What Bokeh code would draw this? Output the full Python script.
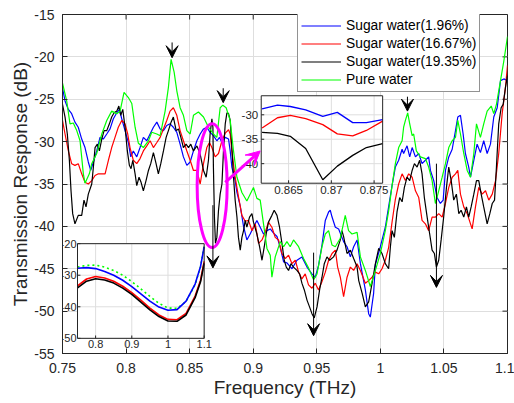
from bokeh.plotting import figure
from bokeh.models import Range1d, FixedTicker, Arrow, VeeHead
from bokeh.core.properties import value
from bokeh.embed import file_html
from bokeh.resources import INLINE

FONT = "Liberation Sans"
AX = "#262626"
GRID = "#dedede"

# ---------------- axis ticks ----------------
x_ticks = [0.75, 0.8, 0.85, 0.9, 0.95, 1.0, 1.05, 1.1]
x_tick_labels = ["0.75", "0.8", "0.85", "0.9", "0.95", "1", "1.05", "1.1"]
y_ticks = [-55, -50, -45, -40, -35, -30, -25, -20, -15]
y_tick_labels = ["-55", "-50", "-45", "-40", "-35", "-30", "-25", "-20", "-15"]
x_lim = (0.75, 1.1)
y_lim = (-55, -15)

series_names = ["Sugar water(1.96%)", "Sugar water(16.67%)", "Sugar water(19.35%)", "Pure water"]

# ---------------- main series (THz, dB) ----------------
blue_f = [0.7500, 0.7520, 0.7546, 0.7572, 0.7598, 0.7624, 0.7651, 0.7677, 0.7703, 0.7722, 0.7743, 0.7769,
          0.7795, 0.7821, 0.7848, 0.7874, 0.7900, 0.7927, 0.7947, 0.7966, 0.7992, 0.8018, 0.8037, 0.8057,
          0.8084, 0.8110, 0.8136, 0.8163, 0.8189, 0.8215, 0.8242, 0.8268, 0.8294, 0.8320, 0.8346, 0.8372,
          0.8399, 0.8425, 0.8451, 0.8478, 0.8504, 0.8530, 0.8557, 0.8583, 0.8609, 0.8635, 0.8661, 0.8687,
          0.8714, 0.8735, 0.8754, 0.8780, 0.8806, 0.8819, 0.8832, 0.8858, 0.8872, 0.8898, 0.8924, 0.8950,
          0.8976, 0.9002, 0.9029, 0.9055, 0.9081, 0.9108, 0.9134, 0.9160, 0.9187, 0.9213, 0.9239, 0.9265,
          0.9305, 0.9344, 0.9383, 0.9423, 0.9462, 0.9488, 0.9514, 0.9541, 0.9567, 0.9593, 0.9606, 0.9620,
          0.9646, 0.9672, 0.9711, 0.9738, 0.9764, 0.9790, 0.9817, 0.9843, 0.9882, 0.9908, 0.9921, 0.9947,
          0.9961, 1.0000, 1.0039, 1.0065, 1.0092, 1.0118, 1.0144, 1.0171, 1.0183, 1.0210, 1.0231, 1.0250,
          1.0276, 1.0302, 1.0328, 1.0354, 1.0380, 1.0394, 1.0420, 1.0446, 1.0472, 1.0494, 1.0512, 1.0538,
          1.0565, 1.0591, 1.0609, 1.0630, 1.0651, 1.0669, 1.0695, 1.0709, 1.0735, 1.0761, 1.0787, 1.0813,
          1.0840, 1.0866, 1.0892, 1.0919, 1.0945, 1.0971, 1.1000]
blue_db = [-23.7, -25.2, -26.2, -26.7, -27.7, -28.3, -29.7, -30.7, -32.4, -33.4, -32.4, -31.1,
           -29.5, -29.7, -29.1, -28.5, -27.3, -26.6, -26.2, -27.3, -28.7, -30.1, -31.8, -31.1,
           -31.8, -30.7, -29.5, -29.9, -29.1, -28.3, -27.7, -28.5, -28.7, -28.1, -27.9, -28.3,
           -28.9, -30.3, -31.8, -32.8, -32.4, -31.1, -29.9, -29.1, -28.5, -28.3, -28.9, -29.3,
           -29.9, -29.5, -30.1, -29.5, -29.7, -31.1, -33.0, -34.6, -36.0, -37.6, -40.0, -41.6,
           -40.9, -40.1, -39.3, -40.1, -40.9, -40.5, -40.3, -40.8, -41.2, -42.5, -44.2, -44.3,
           -45.0, -44.0, -43.6, -44.8, -45.6, -46.0, -44.6, -42.2, -39.3, -38.3, -38.1, -38.9,
           -40.1, -40.3, -41.8, -42.4, -43.6, -42.4, -41.6, -44.4, -47.5, -50.3, -50.7, -47.9,
           -44.5, -42.4, -40.1, -37.7, -35.2, -33.0, -32.2, -30.9, -31.4, -30.5, -31.8, -30.7,
           -31.8, -31.4, -32.6, -32.2, -31.8, -33.4, -34.6, -36.6, -37.3, -36.9, -33.4, -31.8,
           -30.9, -28.7, -27.1, -26.9, -29.1, -31.4, -33.0, -34.2, -32.2, -30.3, -31.3, -29.9,
           -31.4, -30.3, -27.1, -26.0, -22.8, -22.6, -22.8]

red_f = [0.7500, 0.7520, 0.7546, 0.7572, 0.7598, 0.7624, 0.7651, 0.7677, 0.7703, 0.7730, 0.7756, 0.7782,
         0.7809, 0.7835, 0.7861, 0.7887, 0.7913, 0.7939, 0.7966, 0.7992, 0.8013, 0.8031, 0.8057, 0.8084,
         0.8110, 0.8136, 0.8163, 0.8189, 0.8215, 0.8242, 0.8268, 0.8294, 0.8320, 0.8346, 0.8372, 0.8399,
         0.8425, 0.8451, 0.8478, 0.8504, 0.8530, 0.8557, 0.8583, 0.8609, 0.8635, 0.8656, 0.8675, 0.8701,
         0.8727, 0.8754, 0.8780, 0.8806, 0.8819, 0.8832, 0.8858, 0.8884, 0.8911, 0.8937, 0.8963, 0.8990,
         0.9016, 0.9042, 0.9069, 0.9094, 0.9120, 0.9147, 0.9173, 0.9199, 0.9226, 0.9252, 0.9278, 0.9305,
         0.9331, 0.9357, 0.9383, 0.9409, 0.9435, 0.9462, 0.9488, 0.9514, 0.9541, 0.9567, 0.9593, 0.9620,
         0.9646, 0.9664, 0.9685, 0.9711, 0.9738, 0.9764, 0.9790, 0.9817, 0.9843, 0.9882, 0.9908, 0.9935,
         0.9961, 0.9987, 1.0013, 1.0039, 1.0065, 1.0092, 1.0118, 1.0144, 1.0171, 1.0197, 1.0223, 1.0250,
         1.0276, 1.0302, 1.0328, 1.0354, 1.0380, 1.0407, 1.0433, 1.0459, 1.0486, 1.0512, 1.0538, 1.0565,
         1.0591, 1.0609, 1.0630, 1.0656, 1.0683, 1.0709, 1.0722, 1.0748, 1.0774, 1.0801, 1.0827, 1.0853,
         1.0880, 1.0906, 1.0931, 1.0958, 1.0984, 1.1000]
red_db = [-27.5, -29.1, -31.1, -32.6, -32.8, -32.6, -33.8, -34.8, -35.0, -34.6, -34.0, -33.8,
          -33.8, -33.8, -32.2, -30.7, -29.5, -28.3, -27.5, -27.9, -29.1, -30.7, -32.2, -32.6,
          -32.0, -31.1, -30.5, -29.9, -30.7, -30.1, -29.5, -28.5, -27.5, -26.4, -26.0, -26.9,
          -28.7, -29.9, -31.1, -32.2, -33.4, -33.4, -35.0, -32.6, -30.7, -30.1, -30.7, -31.8,
          -31.4, -29.9, -29.0, -28.6, -29.1, -31.1, -34.2, -36.5, -38.7, -39.4, -39.3, -40.5,
          -39.7, -42.0, -41.6, -40.7, -39.5, -40.1, -41.3, -41.6, -43.2, -43.8, -43.4, -44.4,
          -44.0, -45.4, -46.2, -45.6, -46.9, -47.3, -46.7, -47.5, -46.5, -45.4, -44.0, -43.2,
          -42.8, -44.8, -46.0, -48.3, -46.0, -44.8, -45.2, -44.4, -45.2, -46.7, -46.4, -46.0,
          -45.4, -45.6, -45.0, -44.0, -42.5, -39.5, -36.8, -35.0, -33.8, -34.6, -33.8, -34.2,
          -35.8, -36.6, -39.3, -39.7, -40.5, -38.9, -38.9, -38.5, -38.9, -37.3, -35.4, -34.2,
          -33.8, -33.4, -36.2, -37.7, -38.5, -39.7, -40.3, -37.7, -35.4, -36.2, -35.8, -36.9,
          -36.2, -34.6, -31.4, -26.7, -23.6, -21.0]

black_f = [0.7500, 0.7520, 0.7538, 0.7554, 0.7567, 0.7580, 0.7598, 0.7624, 0.7651, 0.7669, 0.7685, 0.7703,
           0.7730, 0.7743, 0.7756, 0.7774, 0.7790, 0.7809, 0.7827, 0.7848, 0.7869, 0.7887, 0.7906, 0.7927,
           0.7943, 0.7958, 0.7974, 0.7992, 0.8010, 0.8026, 0.8039, 0.8053, 0.8071, 0.8084, 0.8102, 0.8118,
           0.8136, 0.8157, 0.8176, 0.8194, 0.8215, 0.8236, 0.8254, 0.8273, 0.8294, 0.8315, 0.8333, 0.8354,
           0.8372, 0.8394, 0.8412, 0.8431, 0.8451, 0.8472, 0.8491, 0.8509, 0.8530, 0.8557, 0.8583, 0.8609,
           0.8630, 0.8648, 0.8661, 0.8675, 0.8683, 0.8687, 0.8695, 0.8703, 0.8714, 0.8727, 0.8740, 0.8754,
           0.8766, 0.8780, 0.8793, 0.8806, 0.8819, 0.8832, 0.8845, 0.8858, 0.8872, 0.8884, 0.8898, 0.8911,
           0.8924, 0.8937, 0.8950, 0.8971, 0.8990, 0.9002, 0.9029, 0.9050, 0.9069, 0.9087, 0.9102, 0.9120,
           0.9147, 0.9165, 0.9187, 0.9207, 0.9226, 0.9244, 0.9260, 0.9278, 0.9297, 0.9317, 0.9344, 0.9365,
           0.9383, 0.9402, 0.9423, 0.9443, 0.9462, 0.9480, 0.9502, 0.9522, 0.9541, 0.9559, 0.9580, 0.9601,
           0.9632, 0.9659, 0.9685, 0.9698, 0.9711, 0.9738, 0.9764, 0.9790, 0.9817, 0.9830, 0.9857, 0.9882,
           0.9908, 0.9935, 0.9961, 0.9987, 1.0013, 1.0039, 1.0065, 1.0079, 1.0092, 1.0110, 1.0131, 1.0152,
           1.0171, 1.0189, 1.0210, 1.0231, 1.0250, 1.0268, 1.0289, 1.0309, 1.0328, 1.0346, 1.0368, 1.0388,
           1.0407, 1.0425, 1.0441, 1.0459, 1.0478, 1.0498, 1.0520, 1.0538, 1.0557, 1.0577, 1.0598, 1.0617,
           1.0635, 1.0656, 1.0677, 1.0695, 1.0714, 1.0735, 1.0756, 1.0774, 1.0793, 1.0813, 1.0840, 1.0861,
           1.0880, 1.0898, 1.0913, 1.0931, 1.0950, 1.0966, 1.0984, 1.1000]
black_db = [-25.6, -27.1, -29.1, -32.2, -35.8, -38.5, -39.7, -38.7, -38.7, -36.9, -37.7, -36.2,
            -35.0, -33.0, -30.7, -30.3, -31.1, -29.7, -28.7, -28.7, -27.9, -27.1, -26.6, -26.4,
            -25.8, -26.9, -26.2, -28.3, -31.1, -32.8, -33.2, -32.2, -33.8, -35.2, -34.2, -34.8,
            -35.8, -34.6, -33.4, -32.6, -31.3, -32.6, -33.8, -32.6, -31.1, -29.5, -28.7, -27.7,
            -27.1, -28.7, -28.5, -29.5, -30.7, -30.3, -30.7, -30.3, -31.1, -30.5, -31.5, -33.4,
            -34.2, -32.2, -29.1, -27.3, -28.3, -33.0, -38.9, -42.0, -41.3, -38.1, -36.2, -35.0,
            -31.1, -27.9, -26.6, -26.7, -27.5, -30.7, -34.2, -36.9, -38.9, -41.3, -42.8, -41.3,
            -40.5, -39.3, -40.1, -38.9, -38.5, -39.5, -40.9, -42.4, -44.0, -42.4, -40.9, -39.5,
            -38.7, -38.1, -38.7, -40.1, -42.0, -44.0, -44.8, -45.2, -44.4, -44.8, -45.2, -45.6,
            -46.7, -47.5, -48.7, -49.5, -50.3, -50.8, -49.5, -47.5, -46.0, -44.4, -43.6, -44.0,
            -43.6, -42.8, -41.6, -40.5, -41.2, -43.2, -42.8, -43.8, -44.8, -46.4, -47.9, -49.5,
            -48.9, -46.7, -44.4, -42.6, -43.2, -44.4, -45.0, -42.4, -40.5, -41.3, -38.3, -36.6,
            -37.1, -35.4, -34.2, -34.6, -33.4, -32.6, -33.0, -32.2, -33.8, -36.6, -38.9, -40.9,
            -42.8, -43.2, -44.8, -44.0, -41.6, -38.9, -35.4, -33.0, -34.6, -36.9, -36.2, -38.5,
            -38.1, -38.9, -37.7, -38.9, -37.7, -36.2, -34.6, -34.6, -36.2, -37.7, -39.7, -38.5,
            -37.3, -36.9, -33.0, -27.9, -26.0, -25.6, -23.6, -22.2]

green_f = [0.7500, 0.7533, 0.7559, 0.7585, 0.7612, 0.7638, 0.7664, 0.7677, 0.7711, 0.7730, 0.7769, 0.7809,
           0.7848, 0.7887, 0.7927, 0.7953, 0.7984, 0.8018, 0.8045, 0.8071, 0.8097, 0.8136, 0.8176, 0.8202,
           0.8242, 0.8268, 0.8307, 0.8333, 0.8354, 0.8378, 0.8399, 0.8425, 0.8451, 0.8478, 0.8504, 0.8530,
           0.8569, 0.8609, 0.8648, 0.8687, 0.8714, 0.8740, 0.8761, 0.8787, 0.8819, 0.8845, 0.8872, 0.8911,
           0.8950, 0.8976, 0.9002, 0.9029, 0.9055, 0.9081, 0.9108, 0.9134, 0.9147, 0.9173, 0.9213, 0.9239,
           0.9265, 0.9291, 0.9317, 0.9357, 0.9396, 0.9435, 0.9475, 0.9502, 0.9541, 0.9567, 0.9593, 0.9620,
           0.9646, 0.9685, 0.9724, 0.9750, 0.9777, 0.9817, 0.9843, 0.9882, 0.9921, 0.9961, 1.0000, 1.0039,
           1.0065, 1.0092, 1.0118, 1.0144, 1.0171, 1.0183, 1.0197, 1.0215, 1.0231, 1.0250, 1.0262, 1.0283,
           1.0315, 1.0354, 1.0380, 1.0407, 1.0433, 1.0459, 1.0486, 1.0512, 1.0538, 1.0565, 1.0591, 1.0609,
           1.0630, 1.0656, 1.0683, 1.0709, 1.0735, 1.0756, 1.0787, 1.0813, 1.0840, 1.0872, 1.0892, 1.0913,
           1.0945, 1.0971, 1.1000]
green_db = [-23.1, -25.2, -27.9, -27.8, -28.7, -29.9, -33.8, -34.9, -33.8, -32.6, -31.4, -29.1,
            -27.5, -26.4, -26.7, -26.4, -24.2, -24.8, -25.5, -28.3, -30.2, -30.7, -29.9, -28.9,
            -29.1, -29.3, -26.4, -23.6, -20.3, -21.8, -24.0, -26.0, -26.9, -28.7, -29.1, -26.9,
            -26.5, -27.1, -28.3, -29.1, -29.5, -26.0, -25.7, -26.0, -27.5, -31.1, -34.2, -36.0,
            -37.0, -36.2, -35.4, -36.7, -36.9, -39.7, -42.6, -43.4, -46.0, -43.6, -41.8, -42.4,
            -41.8, -42.4, -41.6, -42.4, -43.8, -44.9, -46.3, -45.6, -42.4, -40.9, -40.5, -42.2,
            -42.4, -41.4, -38.7, -40.5, -40.9, -40.7, -43.6, -45.2, -47.1, -45.2, -43.2, -40.5,
            -38.2, -35.2, -32.6, -30.7, -29.9, -28.3, -27.5, -26.6, -27.9, -29.3, -29.1, -31.1,
            -31.8, -32.0, -33.0, -34.6, -37.3, -35.8, -34.2, -32.6, -30.7, -29.9, -29.5, -27.5,
            -29.1, -31.4, -33.4, -34.2, -31.4, -27.9, -29.5, -27.9, -26.4, -25.8, -26.7, -25.6,
            -22.8, -20.5, -17.6]

# ---------------- inset A (zoom around 0.87 THz) ----------------
zoomA_x_ticks = [0.865, 0.87, 0.875]
zoomA_x_tick_labels = ["0.865", "0.87", "0.875"]
zoomA_y_ticks = [-40, -35, -30]
zoomA_y_tick_labels = ["-40", "-35", "-30"]
zoomA_f = [0.8619, 0.8637, 0.8652, 0.8670, 0.8690, 0.8707, 0.8725, 0.8741, 0.8760]
zoomA_blue = [-28.8, -28.0, -28.3, -29.0, -30.3, -29.5, -31.6, -31.6, -31.0]
zoomA_red = [-32.7, -30.6, -30.1, -30.8, -32.0, -33.9, -34.3, -33.2, -31.3]
zoomA_black = [-33.6, -33.8, -34.4, -36.9, -43.3, -40.5, -38.3, -36.7, -35.9]
zoomA_xlim = (0.8618, 0.8760)
zoomA_ylim = (-44.0, -26.1)

# ---------------- inset B (smoothed trend) ----------------
trend_x_ticks = [0.8, 0.9, 1.0, 1.1]
trend_x_tick_labels = ["0.8", "0.9", "1", "1.1"]
trend_y_ticks = [-50, -40, -30, -20]
trend_y_tick_labels = ["-50", "-40", "-30", "-20"]
trend_f = [0.75, 0.775, 0.80, 0.825, 0.85, 0.875, 0.90, 0.925, 0.95, 0.975, 1.0, 1.025, 1.05, 1.075, 1.09, 1.10]
trend_blue = [-27.8, -27.6, -27.9, -28.8, -30.0, -31.6, -33.6, -35.9, -38.2, -40.1, -41.1, -40.9, -38.2, -32.8, -27.2, -21.0]
trend_green = [-27.4, -26.9, -26.8, -27.4, -28.5, -30.0, -32.0, -34.3, -36.7, -38.9, -40.4, -40.5, -38.3, -33.0, -27.4, -20.5]
trend_red = [-33.4, -31.2, -30.4, -30.9, -31.9, -33.5, -35.5, -37.9, -40.4, -42.6, -44.0, -44.1, -42.1, -36.6, -31.6, -25.6]
trend_black = [-34.0, -31.9, -31.1, -31.5, -32.5, -34.1, -36.1, -38.5, -41.0, -43.1, -44.5, -44.6, -42.6, -37.1, -32.1, -26.2]
trend_xlim = (0.75, 1.1)
trend_ylim = (-50.0, -20.0)

# ---------------- figure ----------------
p = figure(width=514, height=403, x_range=Range1d(*x_lim), y_range=Range1d(*y_lim),
           output_backend="svg", toolbar_location=None,
           min_border_left=62, min_border_right=7, min_border_top=14, min_border_bottom=50)
p.background_fill_color = "white"
p.border_fill_color = "white"
p.outline_line_color = AX
p.outline_line_width = 1

xa = p.xaxis[0]
ya = p.yaxis[0]
xa.ticker = FixedTicker(ticks=x_ticks)
ya.ticker = FixedTicker(ticks=y_ticks)
xa.major_label_overrides = dict(zip(x_ticks, x_tick_labels))
ya.major_label_overrides = dict(zip(y_ticks, y_tick_labels))
xa.axis_label = "Frequency (THz)"
ya.axis_label = "Transmission Response (dB)"
for ax in (xa, ya):
    ax.axis_line_color = AX
    ax.major_tick_line_color = AX
    ax.major_tick_in = 5
    ax.major_tick_out = 0
    ax.minor_tick_line_color = None
    ax.major_label_text_font = FONT
    ax.major_label_text_font_size = "14px"
    ax.major_label_text_color = AX
    ax.axis_label_text_font = FONT
    ax.axis_label_text_font_size = "19px"
    ax.axis_label_text_font_style = "normal"
    ax.axis_label_text_color = AX
xa.major_label_standoff = 9
xa.axis_label_standoff = 1
ya.major_label_standoff = 8
ya.axis_label_standoff = 0

p.xgrid.ticker = FixedTicker(ticks=x_ticks)
p.ygrid.ticker = FixedTicker(ticks=y_ticks)
p.grid.grid_line_color = GRID
p.grid.grid_line_width = 1

# inward box ticks on the top and right edges (tick length: 5 px)
tick_dx = (x_lim[1] - x_lim[0]) / 444 * 5
tick_dy = (y_lim[1] - y_lim[0]) / 339 * 5
p.segment(x0=x_ticks, y0=[y_lim[1]] * len(x_ticks), x1=x_ticks, y1=[y_lim[1] - tick_dy] * len(x_ticks),
          line_color=AX, line_width=1)
p.segment(x0=[x_lim[1]] * len(y_ticks), y0=y_ticks, x1=[x_lim[1] - tick_dx] * len(y_ticks), y1=y_ticks,
          line_color=AX, line_width=1)

LW = 1.2
p.line(blue_f, blue_db, line_color="#0000FF", line_width=LW, legend_label=series_names[0])
p.line(red_f, red_db, line_color="#FF0000", line_width=LW, legend_label=series_names[1])
p.line(black_f, black_db, line_color="#000000", line_width=LW, legend_label=series_names[2])
p.line(green_f, green_db, line_color="#00FF00", line_width=LW, legend_label=series_names[3])

# magenta ellipse around the 0.87 THz feature
p.ellipse(x=[0.8677], y=[-35.2], width=[0.0236], height=[14.6], fill_alpha=0,
          line_color="#FF00FF", line_width=3)

# ---------------- inset A ----------------
insA = p.subplot(x_source=Range1d(*zoomA_xlim), y_source=Range1d(*zoomA_ylim),
                 x_target=Range1d(0.9063, 1.0018), y_target=Range1d(-34.906, -24.588))
insA.quad(left=[zoomA_xlim[0]], right=[zoomA_xlim[1]], bottom=[zoomA_ylim[0]], top=[zoomA_ylim[1]],
          fill_color="white", line_color=None)
insA.segment(x0=zoomA_x_ticks, y0=[zoomA_ylim[0]] * 3, x1=zoomA_x_ticks, y1=[zoomA_ylim[1]] * 3,
             line_color=GRID, line_width=1)
insA.segment(x0=[zoomA_xlim[0]] * 3, y0=zoomA_y_ticks, x1=[zoomA_xlim[1]] * 3, y1=zoomA_y_ticks,
             line_color=GRID, line_width=1)
insA.line(zoomA_f, zoomA_blue, line_color="#0000FF", line_width=1.3)
insA.line(zoomA_f, zoomA_red, line_color="#FF0000", line_width=1.3)
insA.line(zoomA_f, zoomA_black, line_color="#000000", line_width=1.3)
tkAx = 0.00035
tkAy = 0.6
insA.segment(x0=zoomA_x_ticks, y0=[zoomA_ylim[0]] * 3, x1=zoomA_x_ticks, y1=[zoomA_ylim[0] + tkAy] * 3,
             line_color=AX, line_width=1)
insA.segment(x0=[zoomA_xlim[0]] * 3, y0=zoomA_y_ticks, x1=[zoomA_xlim[0] + tkAx] * 3, y1=zoomA_y_ticks,
             line_color=AX, line_width=1)
insA.quad(left=[zoomA_xlim[0]], right=[zoomA_xlim[1]], bottom=[zoomA_ylim[0]], top=[zoomA_ylim[1]],
          fill_alpha=0, line_color=AX, line_width=1)
insA.text(x=zoomA_x_ticks, y=[zoomA_ylim[0]] * 3, text=zoomA_x_tick_labels, text_align="center",
          text_baseline="top", y_offset=3, text_font=value(FONT), text_font_size="11.5px", text_color=AX)
insA.text(x=[zoomA_xlim[0]] * 3, y=zoomA_y_ticks, text=zoomA_y_tick_labels, text_align="right",
          text_baseline="middle", x_offset=-3, text_font=value(FONT), text_font_size="11.5px", text_color=AX)

# ---------------- inset B ----------------
insB = p.subplot(x_source=Range1d(*trend_xlim), y_source=Range1d(*trend_ylim),
                 x_target=Range1d(0.76181, 0.86142), y_target=Range1d(-53.21, -42.04))
insB.quad(left=[trend_xlim[0]], right=[trend_xlim[1]], bottom=[trend_ylim[0]], top=[trend_ylim[1]],
          fill_color="white", line_color=None)
insB.segment(x0=trend_x_ticks, y0=[trend_ylim[0]] * 4, x1=trend_x_ticks, y1=[trend_ylim[1]] * 4,
             line_color=GRID, line_width=1)
insB.segment(x0=[trend_xlim[0]] * 4, y0=trend_y_ticks, x1=[trend_xlim[1]] * 4, y1=trend_y_ticks,
             line_color=GRID, line_width=1)
insB.line(trend_f, trend_green, line_color="#00FF00", line_width=1.6, line_dash="2 3")
insB.line(trend_f, trend_blue, line_color="#0000FF", line_width=1.6)
insB.line(trend_f, trend_red, line_color="#FF0000", line_width=1.6)
insB.line(trend_f, trend_black, line_color="#000000", line_width=1.6)
tkBx = 0.008
tkBy = 0.9
insB.segment(x0=trend_x_ticks, y0=[trend_ylim[0]] * 4, x1=trend_x_ticks, y1=[trend_ylim[0] + tkBy] * 4,
             line_color=AX, line_width=1)
insB.segment(x0=[trend_xlim[0]] * 4, y0=trend_y_ticks, x1=[trend_xlim[0] + tkBx] * 4, y1=trend_y_ticks,
             line_color=AX, line_width=1)
insB.quad(left=[trend_xlim[0]], right=[trend_xlim[1]], bottom=[trend_ylim[0]], top=[trend_ylim[1]],
          fill_alpha=0, line_color=AX, line_width=1)
insB.text(x=trend_x_ticks, y=[trend_ylim[0]] * 4, text=trend_x_tick_labels, text_align="center",
          text_baseline="top", y_offset=2, text_font=value(FONT), text_font_size="11px", text_color=AX)
insB.text(x=[trend_xlim[0]] * 4, y=trend_y_ticks, text=trend_y_tick_labels, text_align="right",
          text_baseline="middle", x_offset=-1, text_font=value(FONT), text_font_size="11px", text_color=AX)

# ---------------- arrows ----------------
peak_arrows = [(0.8362, -18.3, 0.8362, -20.1), (0.8764, -23.7, 0.8764, -25.4), (1.0213, -24.7, 1.0213, -26.4)]
dip_arrows = [(0.8683, -37.5, 0.8683, -44.9), (0.9475, -43.1, 0.9475, -52.9), (1.0441, -32.6, 1.0441, -47.2)]
for (x0, y0, x1, y1) in peak_arrows + dip_arrows:
    p.add_layout(Arrow(end=VeeHead(size=12, fill_color="black", line_color="black", line_width=1),
                       x_start=x0, y_start=y0, x_end=x1, y_end=y1, line_color="black", line_width=1))
p.add_layout(Arrow(end=VeeHead(size=14, fill_color="#FF00FF", line_color="#FF00FF", line_width=1),
                   x_start=0.8780, y_start=-34.8, x_end=0.9055, y_end=-31.1,
                   line_color="#FF00FF", line_width=3))

# ---------------- legend ----------------
lg = p.legend[0]
lg.location = (235, 261)
lg.margin = 0
lg.padding = 3
lg.spacing = 1
lg.label_height = 17
lg.glyph_height = 17
lg.glyph_width = 40
lg.label_standoff = 5
lg.label_text_font = FONT
lg.label_text_font_size = "13.8px"
lg.label_text_color = "black"
lg.border_line_color = AX
lg.border_line_width = 1
lg.background_fill_color = "white"
lg.background_fill_alpha = 1

open("out.html", "w").write(file_html(p, INLINE))
